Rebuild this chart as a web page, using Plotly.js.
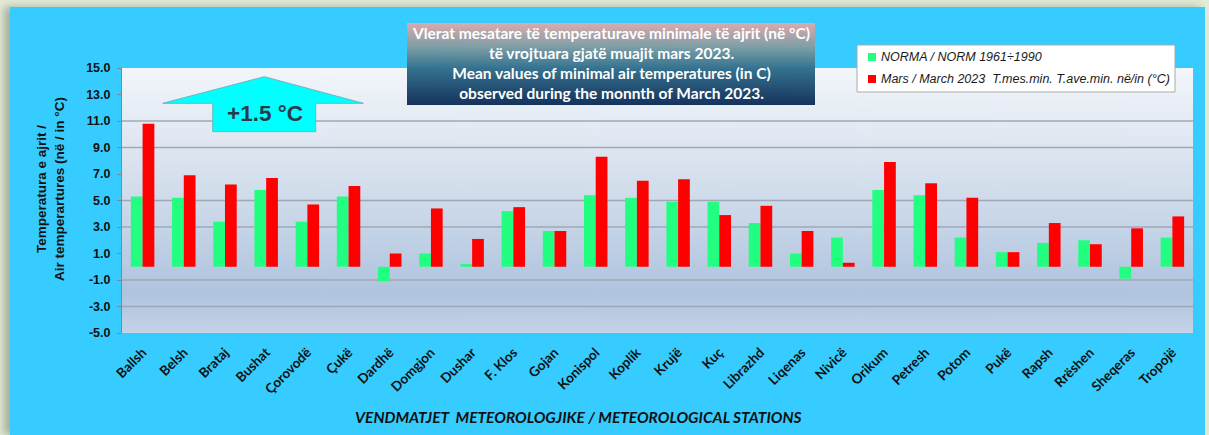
<!DOCTYPE html>
<html>
<head>
<meta charset="utf-8">
<script src="https://cdn.plot.ly/plotly-3.0.1.min.js"></script>
<style>
  html, body { margin: 0; padding: 0; width: 1209px; height: 435px; overflow: hidden; background: #e3ebd7; }
  #chart { position: absolute; left: 10px; top: 7px; width: 1195px; height: 428px; box-shadow: -6px 0 8px rgba(90,100,80,0.45); }
</style>
</head>
<body>
<div id="chart"></div>
<script>
// ---------- DATA ----------
const stations = ["Ballsh","Belsh","Brataj","Bushat","Çorovodë","Çukë","Dardhë","Domgjon","Dushar","F. Klos","Gojan","Konispol","Koplik","Krujë","Kuç","Librazhd","Liqenas","Nivicë","Orikum","Petresh","Potom","Pukë","Rapsh","Rrëshen","Sheqeras","Tropojë"];
const normValues  = [5.3, 5.2, 3.4, 5.8, 3.4, 5.3, -1.1, 1.0, 0.2, 4.2, 2.7, 5.4, 5.2, 4.9, 4.9, 3.3, 1.0, 2.2, 5.8, 5.4, 2.2, 1.1, 1.8, 2.0, -0.9, 2.2];
const march2023   = [10.8, 6.9, 6.2, 6.7, 4.7, 6.1, 1.0, 4.4, 2.1, 4.5, 2.7, 8.3, 6.5, 6.6, 3.9, 4.6, 2.7, 0.3, 7.9, 6.3, 5.2, 1.1, 3.3, 1.7, 2.9, 3.8];
const yTickVals   = [15, 13, 11, 9, 7, 5, 3, 1, -1, -3, -5];
const gridVals    = [11, 9, 5, 3, -1, -3];
const normName    = "NORMA / NORM 1961÷1990";
const marchName   = "Mars / March 2023  T.mes.min. T.ave.min. në/in (°C)";
const anomalyText = "+1.5 °C";
const titleLines  = ["Vlerat mesatare të temperaturave minimale të ajrit (në °C)",
                     "të vrojtuara gjatë muajit mars 2023.",
                     "Mean values of minimal air temperatures (in C)",
                     "observed during the monnth of March 2023."];
const yTitle      = "Temperatura e ajrit /<br>Air temperartures (në / in °C)";
const xTitle      = "VENDMATJET  METEOROLOGJIKE / METEOROLOGICAL STATIONS";

// ---------- STYLE ----------
const GREEN = "#22ff80";
const RED = "#ff0000";
const W = 1195, H = 428;
const M = {l: 112, r: 12, t: 61, b: 102};
const PW = W - M.l - M.r, PH = H - M.t - M.b;
// helpers: convert screenshot pixel coords (page) to paper coords
const px = x => (x - 10 - M.l) / PW;
const py = y => (H - M.b - (y - 7)) / PH;

function gradient(stops) {
  const c = document.createElement("canvas");
  c.width = 8; c.height = 256;
  const g = c.getContext("2d");
  const gr = g.createLinearGradient(0, 0, 0, 256);
  stops.forEach(s => gr.addColorStop(s[0], s[1]));
  g.fillStyle = gr; g.fillRect(0, 0, 8, 256);
  return c.toDataURL();
}
const plotBg = gradient([[0, "#f3f6fb"], [0.45, "#d3deec"], [0.85, "#afc4df"], [1, "#c5d3e6"]]);
const titleBg = gradient([[0, "#dcaaae"], [0.3, "#7b9ea6"], [0.55, "#357390"], [1, "#16335c"]]);

const traces = [
  {type: "bar", name: normName, x: stations, y: normValues, marker: {color: GREEN}, showlegend: false},
  {type: "bar", name: marchName, x: stations, y: march2023, marker: {color: RED}, showlegend: false}
];

const shapes = gridVals.map(v => ({type: "line", xref: "paper", yref: "y", x0: 0, x1: 1, y0: v, y1: v,
  line: {color: "#9fa8b4", width: 1.3}, layer: "below"}));

// arrow
const arrowPts = [[264.3, 76.7], [363.3, 103.3], [315.7, 103.3], [315.7, 131.7], [212.7, 131.7], [212.7, 103.3], [162.7, 103.3]];
shapes.push({type: "path", xref: "paper", yref: "paper",
  path: "M" + arrowPts.map(p => px(p[0]).toFixed(5) + "," + py(p[1]).toFixed(5)).join(" L") + " Z",
  fillcolor: "#00ffff", line: {color: "#6fb7bb", width: 1}, layer: "above"});

// legend box
shapes.push({type: "rect", xref: "paper", yref: "paper", x0: px(857), x1: px(1175), y0: py(92), y1: py(45),
  fillcolor: "#ffffff", line: {color: "#a9a9a9", width: 1}, layer: "above"});
shapes.push({type: "rect", xref: "paper", yref: "paper", x0: px(868), x1: px(876), y0: py(61), y1: py(53),
  fillcolor: GREEN, line: {width: 0}, layer: "above"});
shapes.push({type: "rect", xref: "paper", yref: "paper", x0: px(868), x1: px(876), y0: py(83), y1: py(75),
  fillcolor: RED, line: {width: 0}, layer: "above"});

const A = (x, y, text, font, extra) => Object.assign({xref: "paper", yref: "paper", x: px(x), y: py(y),
  xanchor: "center", yanchor: "middle", text: text, showarrow: false, font: font}, extra || {});

const annotations = [
  A(265, 113, anomalyText, {family: "Liberation Sans, Arial, sans-serif", size: 22.5, color: "#2a3a4c", weight: "bold"}),
  A(611, 63, titleLines.join("<br>"), {family: "Lato, sans-serif", size: 15.5, color: "#ffffff", weight: "bold"}, {align: "center"}),
  A(879, 57, normName, {family: "Liberation Sans, Arial, sans-serif", size: 12.5, color: "#1a1a1a", style: "italic"}, {xanchor: "left"}),
  A(879, 79, marchName, {family: "Liberation Sans, Arial, sans-serif", size: 12.5, color: "#1a1a1a", style: "italic"}, {xanchor: "left"}),
  A(50, 189, yTitle, {family: "Liberation Sans, Arial, sans-serif", size: 13.5, color: "#111111", weight: "bold"}, {textangle: -90}),
  A(578, 417, xTitle, {family: "Lato, sans-serif", size: 15.5, color: "#111111", weight: "bold", style: "italic"})
];

const layout = {
  width: W, height: H,
  margin: M,
  paper_bgcolor: "#36ccff",
  plot_bgcolor: "rgba(0,0,0,0)",
  barmode: "group", bargap: 0.43, bargroupgap: 0,
  showlegend: false,
  xaxis: {type: "category", showgrid: false, zeroline: false, showline: false, ticks: "",
    tickangle: -45, ticklabelstandoff: 8,
    tickfont: {family: "Lato, sans-serif", size: 13.5, color: "#111111", weight: "bold"}},
  yaxis: {range: [-5, 15], tickvals: yTickVals, ticktext: yTickVals.map(v => v.toFixed(1)),
    showgrid: false, zeroline: false, showline: true, linecolor: "#7d8790", linewidth: 1,
    ticks: "outside", ticklen: 4, tickcolor: "#7d8790", ticklabelstandoff: 4,
    tickfont: {family: "Liberation Sans, Arial, sans-serif", size: 12.5, color: "#111111", weight: "bold"}},
  images: [
    {source: plotBg, xref: "paper", yref: "paper", x: 0, y: 1, sizex: 1, sizey: 1, sizing: "stretch", xanchor: "left", yanchor: "top", layer: "below"},
    {source: titleBg, xref: "paper", yref: "paper", x: px(407), y: py(23), sizex: px(815) - px(407), sizey: py(23) - py(105), sizing: "stretch", xanchor: "left", yanchor: "top", layer: "above"}
  ],
  shapes: shapes,
  annotations: annotations
};

Plotly.newPlot("chart", traces, layout, {displayModeBar: false, staticPlot: true});
</script>
</body>
</html>
